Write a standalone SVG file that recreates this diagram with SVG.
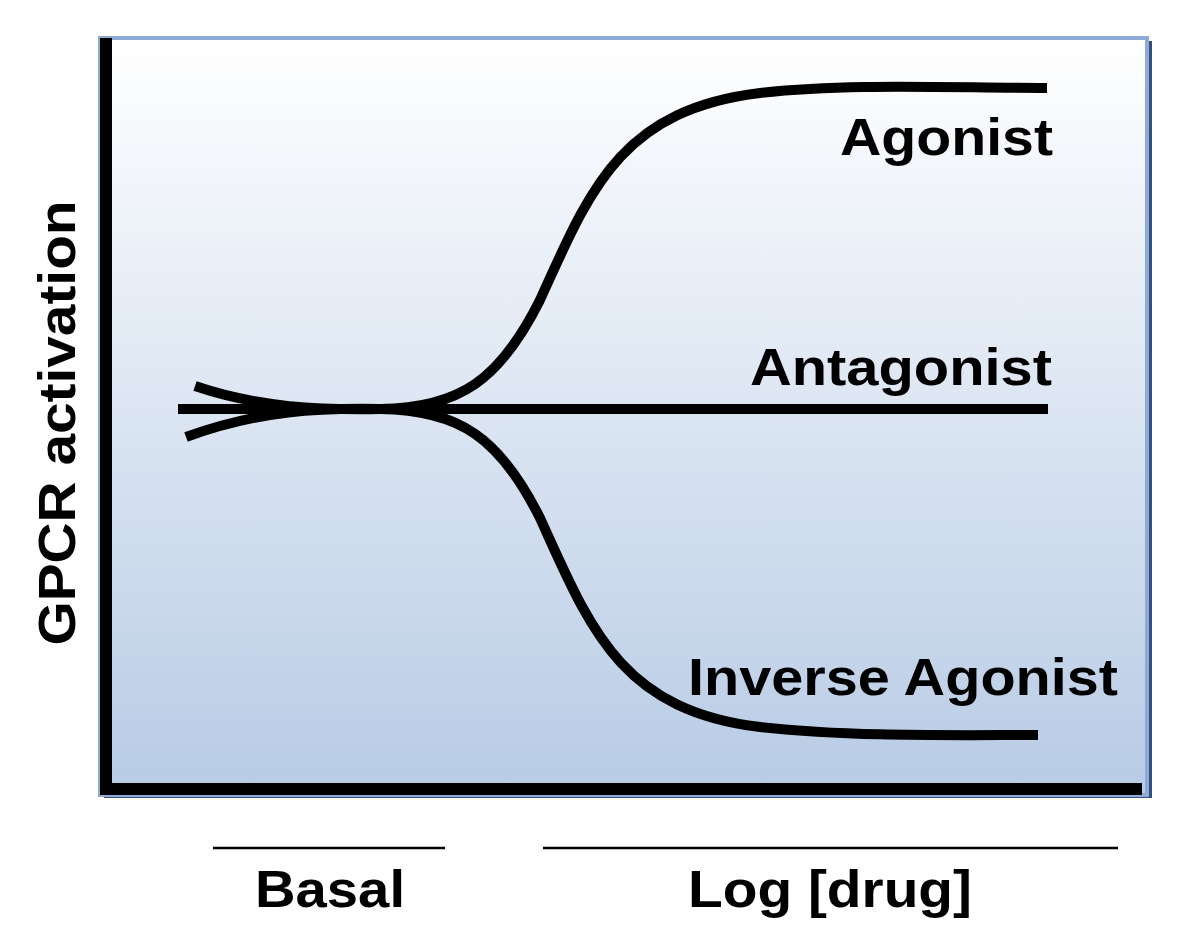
<svg xmlns="http://www.w3.org/2000/svg" width="1200" height="948" viewBox="0 0 1200 948">
<defs>
<linearGradient id="bg" x1="0" y1="0" x2="0" y2="1">
<stop offset="0" stop-color="#ffffff"/><stop offset="1" stop-color="#b7cbe5"/>
</linearGradient>
<style>
.c{fill:none;stroke:#000;stroke-width:10}
.t{font-family:"Liberation Sans",Arial,sans-serif;font-weight:bold;fill:#000}
</style>
</defs>
<rect width="1200" height="948" fill="#fff"/>
<g id="plot">
<rect x="104" y="41" width="1048" height="757" fill="#34507e"/>
<rect x="100" y="38" width="1047" height="757" fill="url(#bg)" stroke="#8eaad6" stroke-width="4"/>
<rect x="100" y="38" width="12" height="757" fill="#000"/>
<rect x="100" y="783" width="1042" height="12" fill="#000"/>
</g>
<g id="connectors">
<path class="c" d="M178,409 H1048"/>
<path class="c" d="M195,386 C260,408 320,410 380,409 C460,408 500,380 540,300 C590,190 620,110 760,93 C850,83 950,88 1047,88"/>
<path class="c" d="M186,437 C260,410 320,408 380,409 C460,410 500,438 540,518 C590,628 620,710 760,727 C850,737 950,735 1038,735"/>
</g>
<g id="labels">
<text class="t" x="1053" y="155" font-size="52" text-anchor="end" textLength="213" lengthAdjust="spacingAndGlyphs">Agonist</text>
<text class="t" x="1052" y="385" font-size="52" text-anchor="end" textLength="302" lengthAdjust="spacingAndGlyphs">Antagonist</text>
<text class="t" x="1118" y="695" font-size="52" text-anchor="end" textLength="430" lengthAdjust="spacingAndGlyphs">Inverse Agonist</text>
<text class="t" x="0" y="0" font-size="52" text-anchor="middle" textLength="445" lengthAdjust="spacingAndGlyphs" transform="translate(75,423) rotate(-90)">GPCR activation</text>
<line x1="213" y1="848" x2="445" y2="848" stroke="#000" stroke-width="2.5"/>
<line x1="543" y1="848" x2="1118" y2="848" stroke="#000" stroke-width="2.5"/>
<text class="t" x="330" y="907" font-size="52" text-anchor="middle" textLength="150" lengthAdjust="spacingAndGlyphs">Basal</text>
<text class="t" x="830" y="907" font-size="52" text-anchor="middle" textLength="284" lengthAdjust="spacingAndGlyphs">Log [drug]</text>
</g>
</svg>
